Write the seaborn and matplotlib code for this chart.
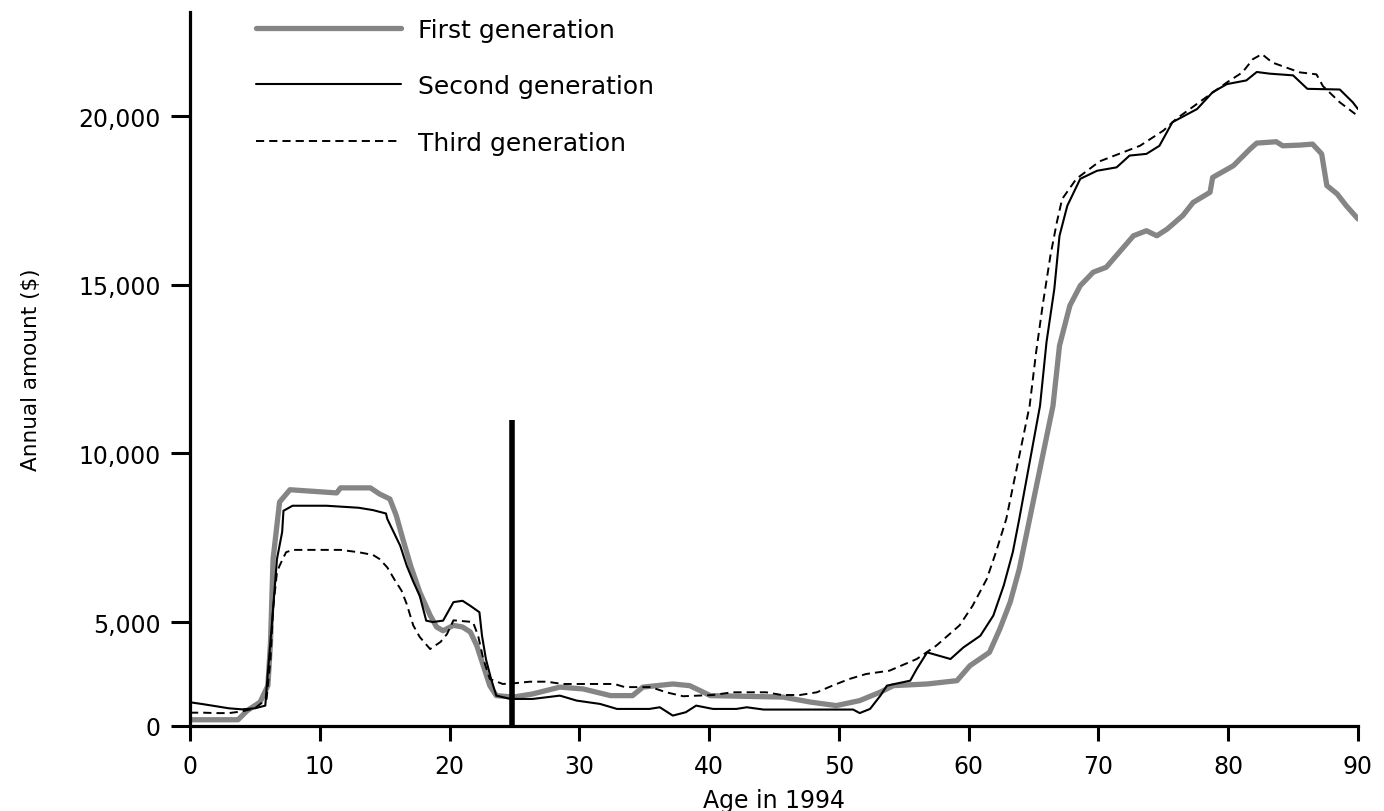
import numpy as np
import pandas as pd
import matplotlib
matplotlib.use("Agg")
import matplotlib.pyplot as plt
from matplotlib.lines import Line2D
from matplotlib.ticker import FuncFormatter, NullLocator
import seaborn as sns

# Annual amount ($) by age in 1994, one series per generation
first_age = [0, 3.7, 4.4, 5.4, 6.0, 6.2, 6.4, 6.9, 7.7, 11.3, 11.6, 13.9, 14.6, 15.4, 15.9, 16.4,
             17.0, 17.7, 18.5, 19.0, 19.5, 20.3, 21.0, 21.6, 22.1, 22.6, 23.1, 23.6, 24.9, 26.4,
             28.5, 30.3, 32.4, 34.1, 34.9, 37.2, 38.5, 40.1, 45.7, 47.8, 49.8, 51.6, 53.2, 54.2,
             56.8, 59.1, 60.1, 61.6, 62.4, 63.2, 63.9, 64.7, 66.5, 67.0, 67.8, 68.6, 69.6, 70.6,
             71.6, 72.7, 73.7, 74.5, 75.3, 76.5, 77.3, 78.6, 78.8, 80.4, 81.7, 82.2, 83.7, 84.2,
             85.5, 86.5, 87.2, 87.6, 88.4, 89.1, 90.0]
first_amt = [300, 300, 735, 1150, 1940, 4000, 6870, 8560, 8925, 8830, 8980, 8980, 8800, 8650, 8150, 7460,
             6670, 5890, 5200, 4760, 4580, 4840, 4760, 4520, 3860, 2900, 1940, 1460, 1390, 1540,
             1870, 1780, 1460, 1460, 1870, 2020, 1940, 1460, 1390, 1150, 980, 1220, 1630, 1940,
             2020, 2180, 2900, 3540, 4660, 5590, 6570, 8060, 11420, 13200, 14390, 14980, 15380, 15525,
             15970, 16460, 16610, 16460, 16660, 17060, 17450, 17750, 18190, 18540, 19040, 19210, 19250, 19130,
             19150, 19180, 18890, 17950, 17700, 17350, 16960]

second_age = [0, 1, 2, 3, 4, 5, 5.8, 6.0, 6.3, 6.7, 7.1, 7.2, 7.9, 10.5, 13.0, 14.1, 15.1, 15.2, 15.7,
              16.2, 16.7, 17.2, 17.7, 18.2, 18.7, 19.5, 20.3, 21.0, 21.6, 22.3, 22.5, 22.8, 23.2,
              23.6, 24.7, 26.4, 28.5, 29.8, 31.6, 32.9, 35.4, 36.2, 37.2, 38.2, 39.0, 40.3, 42.1,
              42.9, 44.2, 51.1, 51.6, 52.4, 53.2, 53.7, 55.5, 56.0, 56.8, 58.6, 59.6, 60.9, 61.9,
              62.7, 63.4, 63.9, 65.5, 66.0, 66.6, 67.0, 67.6, 68.6, 69.9, 71.4, 72.4, 73.7, 74.7,
              75.7, 77.6, 78.8, 79.9, 81.4, 82.2, 83.2, 85.0, 86.1, 88.6, 89.6, 90.0]
second_amt = [1140, 1050, 950, 850, 800, 850, 980, 2600, 4840, 6870, 7670, 8300, 8450, 8450, 8390, 8320, 8220, 8060, 7660,
              7260, 6670, 6200, 5780, 5040, 5000, 5040, 5590, 5630, 5480, 5290, 4340, 3220, 2260,
              1460, 1300, 1300, 1460, 1220, 1060, 820, 820, 900, 500, 660, 980, 820, 820,
              900, 790, 790, 620, 820, 1460, 1940, 2180, 2740, 3540, 3220, 3780, 4340, 5190,
              6080, 7070, 8060, 11420, 13310, 14880, 16460, 17350, 18150, 18390, 18490, 18840, 18890, 19130,
              19830, 20220, 20720, 20960, 21070, 21320, 21270, 21220, 20820, 20800, 20420, 20220]

third_age = [0, 1, 2, 3, 4, 5, 5.9, 6.2, 6.4, 6.7, 6.9, 7.4, 7.9, 11.6, 13.0, 14.1, 14.6, 15.2, 15.8,
             16.3, 16.7, 17.2, 17.7, 18.5, 19.3, 19.8, 20.3, 21.8, 22.2, 22.6, 23.1, 24.1, 24.9,
             26.2, 27.5, 28.7, 32.7, 33.5, 35.5, 36.7, 38.0, 40.3, 41.8, 44.4, 45.6, 47.0, 48.3,
             49.5, 50.8, 52.1, 53.9, 56.0, 57.5, 59.3, 60.3, 61.4, 62.1, 62.9, 64.7, 65.2, 65.7,
             66.3, 66.8, 67.2, 68.3, 70.1, 73.2, 75.0, 76.0, 78.3, 79.9, 81.1, 81.9, 82.6, 83.4,
             85.5, 86.8, 87.3, 88.6, 89.8]
third_amt = [640, 640, 620, 620, 700, 850, 1300, 3220, 5390, 6480, 6670, 7070, 7140, 7140, 7070, 6990, 6870, 6620, 6230,
             5930, 5530, 4840, 4280, 3700, 4040, 4420, 5050, 5000, 4340, 3220, 2260, 2020, 2050,
             2130, 2130, 2020, 2020, 1870, 1870, 1620, 1430, 1490, 1620, 1620, 1490, 1490, 1620,
             1940, 2260, 2500, 2660, 3220, 3860, 4840, 5480, 6280, 7070, 8060, 11420, 13010, 14390,
             15870, 16870, 17550, 18150, 18670, 19130, 19580, 19930, 20570, 21010, 21310, 21700, 21850, 21600,
             21310, 21250, 20900, 20420, 20070]

series_names = ["First generation", "Second generation", "Third generation"]
y_ticks = [0, 5000, 10000, 15000, 20000]
x_ticks = [0, 10, 20, 30, 40, 50, 60, 70, 80, 90]
marker_age = 24.8
marker_top = 11000

df = pd.concat([
    pd.DataFrame({"age": first_age, "amount": first_amt, "series": series_names[0]}),
    pd.DataFrame({"age": second_age, "amount": second_amt, "series": series_names[1]}),
    pd.DataFrame({"age": third_age, "amount": third_amt, "series": series_names[2]}),
])

sns.set_theme(style="ticks")
plt.rcParams["font.family"] = ["DejaVu Sans"]
plt.rcParams["text.color"] = "black"
plt.rcParams["axes.labelcolor"] = "black"
plt.rcParams["xtick.color"] = "black"
plt.rcParams["ytick.color"] = "black"

fig = plt.figure(figsize=(13.84, 8.12), dpi=100)
ax = fig.add_axes([0.1373, 0.1047, 0.8439, 0.8793])

# The axis below 5,000 is drawn compressed
k = 0.617
def fwd(y):
    y = np.asarray(y, dtype=float)
    return np.where(y < 5000, y * k, 5000 * k + (y - 5000))
def inv(u):
    u = np.asarray(u, dtype=float)
    return np.where(u < 5000 * k, u / k, u - 5000 * k + 5000)
ax.set_yscale("function", functions=(fwd, inv))

styles = {
    series_names[0]: dict(color="#858585", lw=3.8, ls="-"),
    series_names[1]: dict(color="black", lw=1.5, ls="-"),
    series_names[2]: dict(color="black", lw=1.4, ls=(0, (4.2, 2.6))),
}
for name in series_names:
    sub = df[df["series"] == name]
    st = styles[name]
    sns.lineplot(data=sub, x="age", y="amount", ax=ax, sort=False, estimator=None,
                 color=st["color"], linewidth=st["lw"], linestyle=st["ls"], legend=False)

ax.vlines(marker_age, 0, marker_top, color="black", lw=4)

ax.set_xlim(0, 90)
ax.set_ylim(0, 23100)
ax.set_xticks(x_ticks)
ax.set_yticks(y_ticks)
ax.yaxis.set_major_formatter(FuncFormatter(lambda v, p: f"{int(round(v)):,}"))
ax.yaxis.set_minor_locator(NullLocator())
ax.tick_params(axis="x", direction="out", length=11, width=2.2, labelsize=17, pad=9)
ax.tick_params(axis="y", direction="out", length=14, width=2.2, labelsize=17, pad=7)
for s in ["top", "right"]:
    ax.spines[s].set_visible(False)
for s in ["left", "bottom"]:
    ax.spines[s].set_linewidth(2.3)
    ax.spines[s].set_color("black")

ax.set_xlabel("Age in 1994", fontsize=17, va="center")
ax.xaxis.set_label_coords(0.5, -0.104)
ax.set_ylabel("Annual amount ($)", fontsize=15.5, va="center")
ax.yaxis.set_label_coords(-0.136, 0.5)

handles = [Line2D([], [], color=styles[n]["color"], lw=styles[n]["lw"], ls=styles[n]["ls"])
           for n in series_names]
fig.legend(handles, series_names, loc="upper left", bbox_to_anchor=(0.185, 0.977),
           frameon=False, fontsize=18, handlelength=5.8, handletextpad=0.68,
           labelspacing=1.3, borderpad=0, borderaxespad=0)

fig.savefig("out.png", dpi=100, facecolor="white")
